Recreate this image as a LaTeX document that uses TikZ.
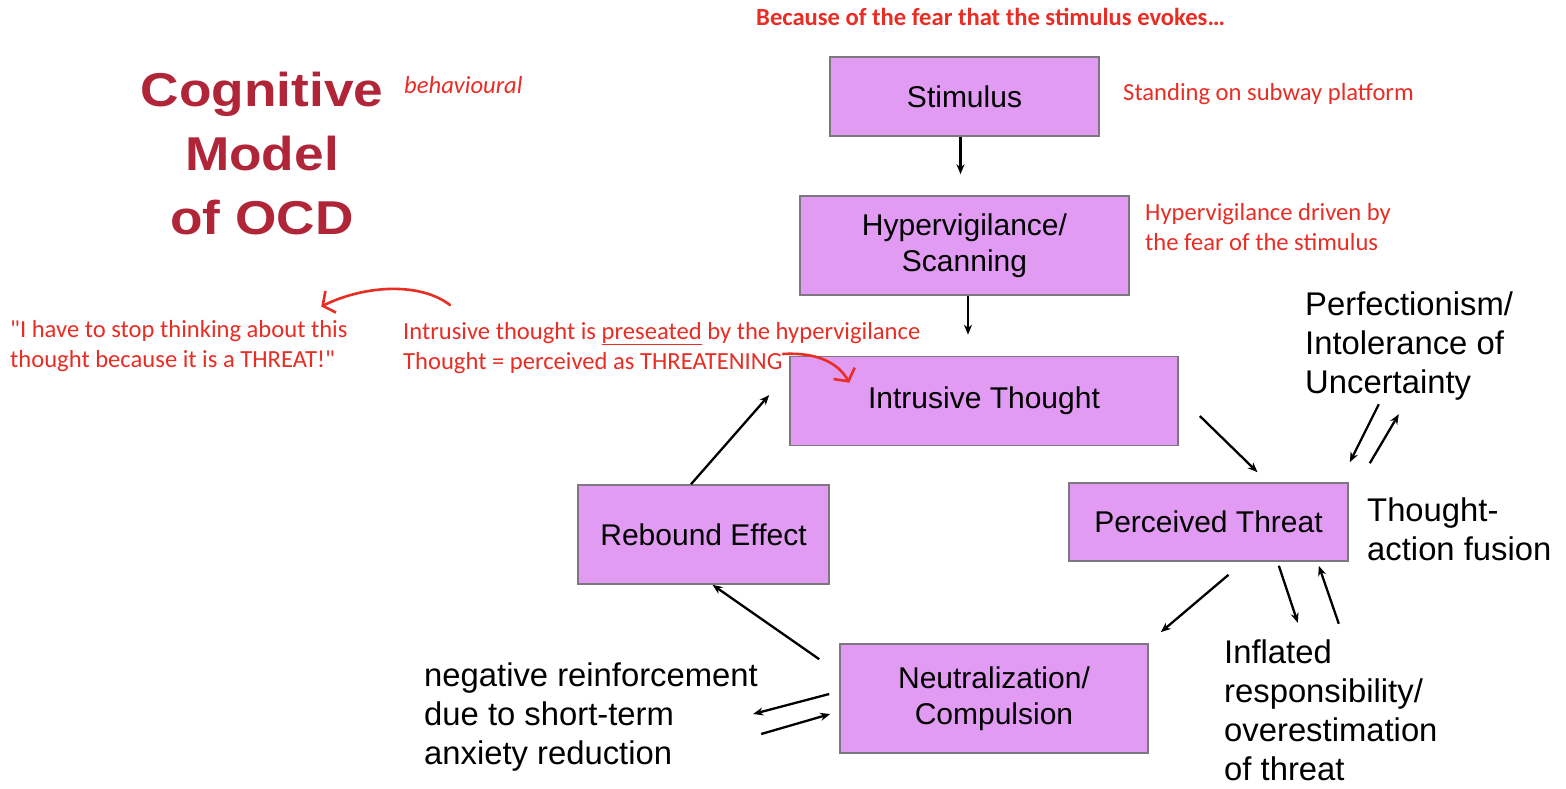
\documentclass[tikz,border=0pt]{standalone}
\usepackage{fontspec}
\setmainfont{Liberation Sans}
\newfontfamily\notefont{Carlito}
\newfontfamily\titlefont{Liberation Sans}[FakeStretch=1.12]
\usetikzlibrary{arrows.meta}
\definecolor{boxfill}{RGB}{226,155,243}
\definecolor{boxline}{RGB}{125,120,128}
\definecolor{notered}{RGB}{232,45,36}
\definecolor{titlered}{RGB}{176,37,56}
\tikzset{
	box/.style={draw=boxline, fill=boxfill, line width=1.6pt, inner sep=0pt, align=center, font=\fontsize{30}{36}\selectfont},
	note/.style={anchor=base west, inner sep=0pt, align=left, text=notered, font=\notefont\fontsize{24.6}{30}\selectfont},
	side/.style={anchor=base west, inner sep=0pt, align=left, font=\fontsize{32.8}{39}\selectfont},
	arr/.style={line width=2.3pt, -{Stealth[length=10pt,width=8pt]}},
	redarr/.style={draw=notered, line width=2.6pt, line cap=round, -{Straight Barb[length=9pt,width=24pt,line width=2.6pt]}}
}

\begin{document}
\begin{tikzpicture}[x=1pt, y=-1pt]
			%%%%% START %%%%%
			\useasboundingbox[fill=white] (0, 0) rectangle (1566, 788);
			
			% boxes
			\node[box, minimum width=269pt, minimum height=79pt] (stim) at (964.5, 96.5) {Stimulus};
			\node[box, minimum width=329pt, minimum height=99pt] (hyp) at (964.5, 245.5) {Hypervigilance/\\Scanning};
			\node[box, minimum width=388pt, minimum height=89pt] (intr) at (984, 401) {Intrusive Thought};
			\node[box, minimum width=279pt, minimum height=78pt] (perc) at (1208.5, 522) {Perceived Threat};
			\node[box, minimum width=251pt, minimum height=99pt] (reb) at (703.5, 534.5) {Rebound Effect};
			\node[box, minimum width=308pt, minimum height=109pt] (neut) at (994, 698.5) {Neutralization/\\Compulsion};
			
			% title
			\node[anchor=base, inner sep=0pt, align=center, text=titlered, font=\titlefont\bfseries\fontsize{47.5}{64}\selectfont] (title) at (262, 234) {Cognitive\\Model\\of OCD};
			
			% black side texts
			\node[side] (perf) at (1305, 393) {Perfectionism/\\Intolerance of\\Uncertainty};
			\node[side] (taf) at (1367, 560) {Thought-\\action fusion};
			\node[side] (infl) at (1224, 780) {Inflated\\responsibility/\\overestimation\\of threat};
			\node[side] (negr) at (424, 764) {negative reinforcement\\due to short-term\\anxiety reduction};
			
			% red notes
			\node[note, font=\notefont\bfseries\fontsize{24.6}{30}\selectfont] (head) at (756, 25) {Because of the fear that the stimulus evokes…};
			\node[note, font=\notefont\itshape\fontsize{24.6}{30}\selectfont] (behav) at (404, 93) {behavioural};
			\node[note] (stand) at (1123, 100) {Standing on subway platform};
			\node[note] (hypnote) at (1145, 250) {Hypervigilance driven by\\the fear of the stimulus};
			\node[note] (quote) at (10, 367) {"I have to stop thinking about this\\thought because it is a THREAT!"};
			\node[note] (intrnote) at (403, 369) {Intrusive thought is \underline{preseated} by the hypervigilance\\Thought = perceived as THREATENING};
			
			% main cycle
			\draw[arr, shorten >=21pt] ([xshift=-4pt]stim.south) -- ([xshift=-4pt]stim.south |- hyp.north);
			\draw[arr, shorten >=21pt] ([xshift=3.5pt]hyp.south) -- ([xshift=3.5pt]hyp.south |- intr.north);
			\draw[arr] ([shift={(21,15)}]intr.east) -- ([shift={(49,-10)}]perc.north);
			\draw[arr] ([shift={(20,13)}]perc.south) -- ([shift={(12,-11)}]neut.north east);
			\draw[arr] ([shift={(-20,16)}]neut.north west) -- ([xshift=9pt]reb.south);
			\draw[arr] ([xshift=-12.5pt]reb.north) -- ([shift={(-20,-6)}]intr.west);
			
			% side arrows
			\draw[arr] ([shift={(30,-78)}]perc.north east) -- ([shift={(1,-20)}]perc.north east);
			\draw[arr] ([shift={(21,-19)}]perc.north east) -- ([shift={(50,-68)}]perc.north east);
			\draw[arr] ([shift={(-70,4)}]perc.south east) -- ([shift={(-51,61)}]perc.south east);
			\draw[arr] ([shift={(-10,62)}]perc.south east) -- ([shift={(-30,4)}]perc.south east);
			\draw[arr] ([shift={(-10,-4.5)}]neut.west) -- ([shift={(-86,15.5)}]neut.west);
			\draw[arr] ([shift={(-78,35.5)}]neut.west) -- ([shift={(-9,15.5)}]neut.west);
			
			% red hand arrows
			\coordinate (c1) at (450, 305);
			\coordinate (c2) at (783, 354);
			\draw[redarr] (c1) .. controls (420, 282) and (365, 285) .. ([shift={(-468,-94.5)}]intr.west);
			\draw[redarr] (c2) .. controls (815, 352) and (838, 362) .. ([shift={(60,27)}]intr.north west);
			
			%%%%% END %%%%%
\end{tikzpicture}
\end{document}
